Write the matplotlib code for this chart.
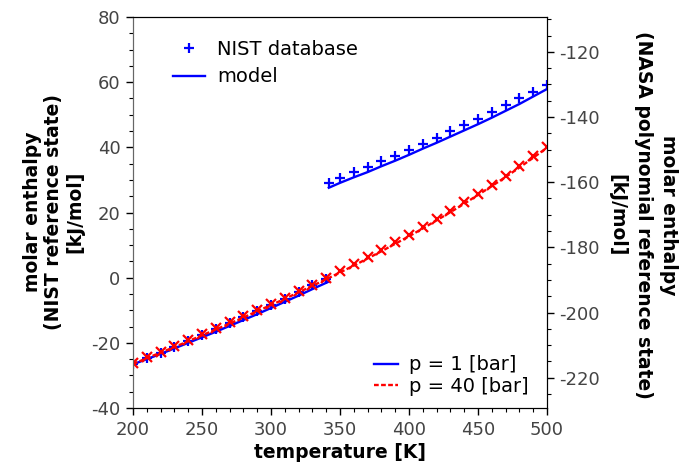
import matplotlib
matplotlib.use("Agg")
from matplotlib import pyplot as plt
from matplotlib.lines import Line2D
from matplotlib.ticker import MultipleLocator

plt.rcParams['font.family'] = ['DejaVu Sans']
plt.rcParams['axes.unicode_minus'] = False

# temperatures [K]
T_liq = [200, 210, 220, 230, 240, 250, 260, 270, 280, 290, 300, 310, 320, 330, 340]
T_gas = [341.9, 350, 360, 370, 380, 390, 400, 410, 420, 430, 440, 450, 460, 470, 480, 490, 500]
T_all = [200, 210, 220, 230, 240, 250, 260, 270, 280, 290, 300, 310, 320, 330, 340,
         350, 360, 370, 380, 390, 400, 410, 420, 430, 440, 450, 460, 470, 480, 490, 500]
T_model_liq = [200, 210, 220, 230, 240, 250, 260, 270, 280, 290, 300, 310, 320, 330, 341.9]

# p = 1 bar, NIST database (liquid + vapour) and model [kJ/mol]
nist_1_liq = [-26.5, -24.7, -23.0, -21.2, -19.4, -17.6, -15.8, -14.0, -12.1, -10.2,
              -8.3, -6.4, -4.4, -2.4, -0.4]
nist_1_gas = [29.2, 30.7, 32.3, 34.0, 35.7, 37.4, 39.2, 41.1, 43.0, 44.9, 46.8, 48.8,
              50.8, 52.9, 55.0, 57.1, 59.2]
model_1_liq = [-26.6, -25.0, -23.4, -21.7, -20.0, -18.3, -16.6, -14.8, -13.0, -11.2,
               -9.3, -7.4, -5.5, -3.5, -1.2]
model_1_gas = [27.6, 29.1, 30.8, 32.4, 34.2, 35.9, 37.7, 39.6, 41.4, 43.3, 45.2, 47.1,
               49.1, 51.2, 53.3, 55.6, 57.9]

# p = 40 bar
nist_40 = [-26.2, -24.4, -22.7, -20.9, -19.1, -17.3, -15.5, -13.7, -11.8, -9.9, -8.0,
           -6.1, -4.1, -2.1, -0.1, 2.0, 4.1, 6.3, 8.5, 10.8, 13.1, 15.5, 18.0, 20.5,
           23.1, 25.8, 28.5, 31.3, 34.2, 37.2, 40.2]
model_40 = [-26.5, -24.7, -23.0, -21.3, -19.5, -17.7, -15.9, -14.1, -12.2, -10.3, -8.4,
            -6.5, -4.5, -2.5, -0.5, 1.6, 3.7, 5.9, 8.1, 10.4, 12.7, 15.1, 17.6, 20.1,
            22.7, 25.4, 28.1, 30.9, 33.8, 36.8, 39.9]

# shift between NIST and NASA polynomial reference state
ref_shift = -189.3

fig = plt.figure(figsize=(6.8, 4.7), dpi=100)
ax = fig.add_axes([0.1956, 0.1319, 0.6088, 0.8319])

blue = '#0000ff'
red = '#ff0000'

ax.plot(T_model_liq, model_1_liq, color=blue, lw=1.7, zorder=2)
ax.plot(T_gas, model_1_gas, color=blue, lw=1.7, zorder=2)
ax.plot(T_liq, nist_1_liq, '+', color=blue, ms=7.5, mew=1.6, zorder=3)
ax.plot(T_gas, nist_1_gas, '+', color=blue, ms=7.5, mew=1.6, zorder=3)
ax.plot(T_all, model_40, color=red, lw=1.7, dashes=(2, 1), zorder=4)
ax.plot(T_all, nist_40, 'x', color=red, ms=7, mew=1.6, zorder=5)

ax.set_xlim(200, 500)
ax.set_ylim(-40, 80)
ax.xaxis.set_major_locator(MultipleLocator(50))
ax.xaxis.set_minor_locator(MultipleLocator(10))
ax.yaxis.set_major_locator(MultipleLocator(20))
ax.yaxis.set_minor_locator(MultipleLocator(5))

ax2 = ax.twinx()
ax2.set_ylim(-40 + ref_shift, 80 + ref_shift)
ax2.yaxis.set_major_locator(MultipleLocator(20))
ax2.yaxis.set_minor_locator(MultipleLocator(5))

for a in (ax, ax2):
    a.tick_params(which='major', direction='out', length=5, width=1, labelsize=13,
                  labelcolor='#444444', pad=4)
    a.tick_params(which='minor', direction='out', length=3, width=0.8)
ax.spines['left'].set_color('#666666')
ax2.spines['left'].set_color('#666666')

ax.set_xlabel('temperature [K]', fontsize=13.5, fontweight='bold')
ax.xaxis.set_label_coords(0.5, -0.09)
fig.text(54 / 680, 1 - 212 / 470,
         'molar enthalpy\n(NIST reference state)\n[kJ/mol]',
         rotation=90, ha='center', va='center', multialignment='center',
         fontsize=13.5, fontweight='bold', linespacing=1.15)
fig.text(643 / 680, 1 - 215 / 470,
         'molar enthalpy\n(NASA polynomial reference state)\n[kJ/mol]',
         rotation=270, ha='center', va='center', multialignment='center',
         fontsize=13.5, fontweight='bold', linespacing=1.45)

h1 = [Line2D([], [], ls='none', marker='+', color=blue, ms=7.5, mew=1.6),
      Line2D([], [], color=blue, lw=1.7)]
leg1 = ax.legend(h1, ['NIST database', 'model'], loc='upper left',
                 bbox_to_anchor=(0.096, 0.942), frameon=False, fontsize=14,
                 borderpad=0, borderaxespad=0, handlelength=1.65,
                 handletextpad=0.65, labelspacing=0.45)
ax.add_artist(leg1)

h2 = [Line2D([], [], color=blue, lw=1.7),
      Line2D([], [], color=red, lw=1.7, dashes=(2, 1))]
ax.legend(h2, ['p = 1 [bar]', 'p = 40 [bar]'], loc='lower right',
          bbox_to_anchor=(0.955, 0.03), frameon=False, fontsize=14,
          borderpad=0, borderaxespad=0, handlelength=1.25,
          handletextpad=0.55, labelspacing=0.15)

fig.savefig('out.png', dpi=100)
